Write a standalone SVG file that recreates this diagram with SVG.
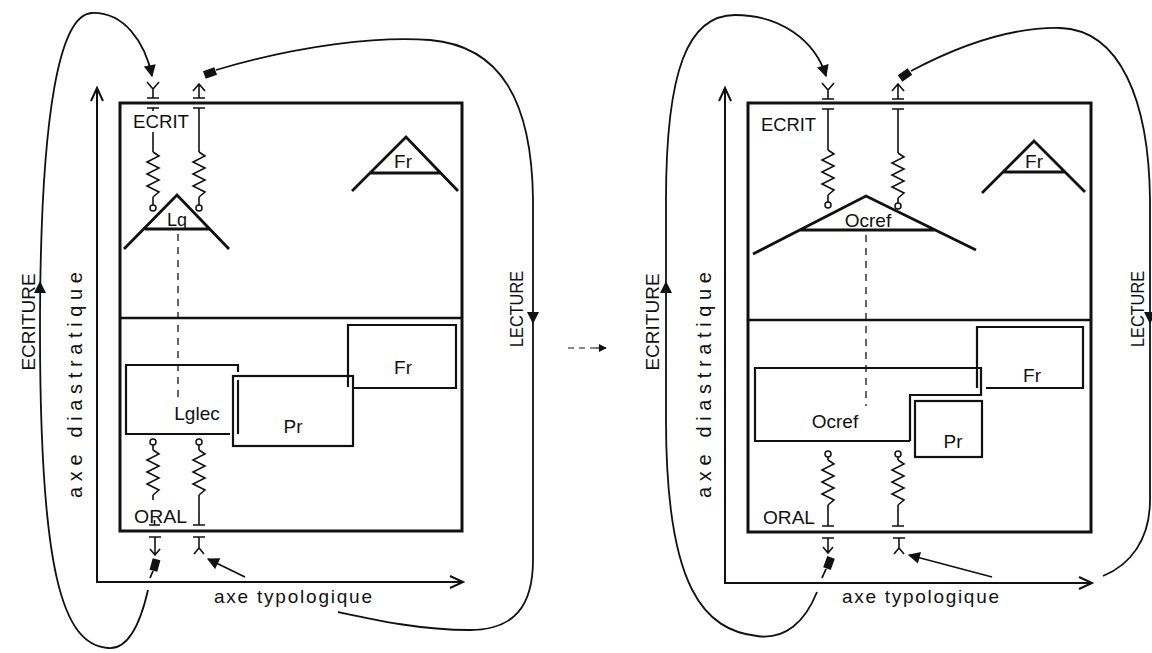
<svg xmlns="http://www.w3.org/2000/svg" width="1152" height="653" viewBox="0 0 1152 653">
<defs>
<style>
.t{font-family:"Liberation Sans","DejaVu Sans",Arial,sans-serif;font-size:19px;fill:#111}
.ax-t{font-size:20px}
.box{fill:none;stroke:#111;stroke-width:3}
.in{fill:none;stroke:#111;stroke-width:2.2}
.ln{fill:none;stroke:#111;stroke-width:1.6}
.tri{fill:none;stroke:#111;stroke-width:2.8;stroke-linejoin:miter}
.cv{fill:none;stroke:#111;stroke-width:1.8}
.ax{fill:none;stroke:#111;stroke-width:2}
.dash{fill:none;stroke:#111;stroke-width:1.3;stroke-dasharray:7,6}
.circ{fill:#fff;stroke:#111;stroke-width:1.5}
</style>
<path id="zz" d="M0,0 l6,4 l-12,6 l12,6 l-12,6 l12,6 l-12,6 l12,6 l-6,5" class="ln"/>
<marker id="ah" viewBox="0 0 10 10" refX="9" refY="5" markerWidth="8" markerHeight="8" markerUnits="userSpaceOnUse" orient="auto"><path d="M0,0 L10,5 L0,10 z" fill="#111"/></marker>
<marker id="ahb" viewBox="0 0 10 10" refX="9" refY="5" markerWidth="14" markerHeight="12" markerUnits="userSpaceOnUse" orient="auto"><path d="M0,0 L10,5 L0,10 z" fill="#111"/></marker>
</defs>
<rect width="1152" height="653" fill="#fff"/>

<!-- LEFT DIAGRAM -->
<g id="left-frame">
<rect class="box" x="120" y="103" width="342" height="428"/>
<line class="box" x1="120" y1="318" x2="462" y2="318" style="stroke-width:2.6"/>
</g>
<g id="left-axes">
<path class="ax" d="M97,583 V88 M91,101 L97,88 L103,101"/>
<path class="ax" d="M97,582 H463 M450,576 L463,582 L450,588"/>
<text class="t ax-t" transform="translate(75,385) rotate(-90)" text-anchor="middle" dominant-baseline="central" textLength="226" lengthAdjust="spacing">axe diastratique</text>
<text class="t" x="214" y="603" textLength="158" lengthAdjust="spacing">axe typologique</text>
</g>
<g id="left-ecrit">
<text class="t" x="133" y="128" textLength="56" lengthAdjust="spacingAndGlyphs">ECRIT</text>
<path class="ln" d="M147,98 H159 M153,98 V89 M147,82 L153,89 L159,82"/>
<path class="ln" d="M147,108 H159 M153,108 V111 M153,132 V152"/>
<use href="#zz" x="153" y="152"/><path class="ln" d="M153,197 V205"/><circle class="circ" cx="153" cy="208" r="3"/>
<path class="ln" d="M193,98 H205 M199,98 V84 M193,91 L199,84 L205,91"/>
<path class="ln" d="M193,108 H205 M199,108 V152"/>
<use href="#zz" x="199" y="152"/><path class="ln" d="M199,197 V205"/><circle class="circ" cx="199" cy="208" r="3"/>
</g>
<g id="left-lq">
<path class="tri" d="M124,249 L177,195 L229,249 M145,229 H210"/>
<text class="t" x="177" y="226" text-anchor="middle" style="font-size:18px">Lq</text>
<path class="dash" d="M178,234 V400"/>
</g>
<g id="left-fr-top">
<path class="tri" d="M352,191 L406,137 L458,191 M370,173 H441"/>
<text class="t" x="403" y="168" text-anchor="middle">Fr</text>
</g>
<g id="left-lglec">
<path class="in" d="M230,434 H126 V365 H238 V372 M238,380 V434"/>
<text class="t" x="197" y="420" text-anchor="middle">Lglec</text>
</g>
<g id="left-pr">
<rect class="in" x="233" y="376" width="120" height="70"/>
<text class="t" x="293" y="433" text-anchor="middle">Pr</text>
</g>
<g id="left-fr">
<path class="in" d="M348,387 V325 H456 V388 H354"/>
<text class="t" x="403" y="374" text-anchor="middle">Fr</text>
</g>
<g id="left-oral">
<circle class="circ" cx="153" cy="442" r="3"/><path class="ln" d="M153,445 V450"/><use href="#zz" x="153" y="450"/><path class="ln" d="M153,495 V500"/>
<circle class="circ" cx="199" cy="442" r="3"/><path class="ln" d="M199,445 V450"/><use href="#zz" x="199" y="450"/><path class="ln" d="M199,495 V525 M193,525 H205"/>
<text class="t" x="134" y="523" textLength="53" lengthAdjust="spacingAndGlyphs">ORAL</text>
<path class="ln" d="M149,525 H160 M154.5,525 V520"/>
<path class="ln" d="M149,537 H161 M155,537 V555 M150,549 L155,555 L160,549"/>
<path class="ln" d="M193,537 H205 M199,537 V548 M194,554 L199,548 L204,554"/>
</g>

<!-- RIGHT DIAGRAM -->
<g id="right-frame">
<rect class="box" x="748" y="103" width="343" height="429"/>
<line class="box" x1="748" y1="320" x2="1091" y2="320" style="stroke-width:2.6"/>
</g>
<g id="right-axes">
<path class="ax" d="M725,584 V88 M719,101 L725,88 L731,101"/>
<path class="ax" d="M725,583 H1092 M1079,577 L1092,583 L1079,589"/>
<text class="t ax-t" transform="translate(704,385) rotate(-90)" text-anchor="middle" dominant-baseline="central" textLength="226" lengthAdjust="spacing">axe diastratique</text>
<text class="t" x="842" y="603" textLength="157" lengthAdjust="spacing">axe typologique</text>
</g>
<g id="right-ecrit">
<text class="t" x="761" y="131" textLength="55" lengthAdjust="spacingAndGlyphs">ECRIT</text>
<path class="ln" d="M822,99 H834 M828,99 V90 M822,83 L828,90 L834,83"/>
<path class="ln" d="M822,109 H834 M828,109 V150"/>
<use href="#zz" x="828" y="150"/><path class="ln" d="M828,195 V202"/><circle class="circ" cx="828" cy="205" r="3"/>
<path class="ln" d="M892,99 H904 M898,99 V84 M892,91 L898,84 L904,91"/>
<path class="ln" d="M892,109 H904 M898,109 V153"/>
<use href="#zz" x="898" y="153"/><path class="ln" d="M898,198 V203"/><circle class="circ" cx="898" cy="206" r="3"/>
</g>
<g id="right-ocref-top">
<path class="tri" d="M753,254 L866,196 L976,250 M800,230 H935"/>
<text class="t" x="868" y="227" text-anchor="middle">Ocref</text>
<path class="dash" d="M866,235 V406"/>
</g>
<g id="right-fr-top">
<path class="tri" d="M982,193 L1034,141 L1085,192 M1003,172 H1065"/>
<text class="t" x="1034" y="168" text-anchor="middle">Fr</text>
</g>
<g id="right-ocref">
<path class="in" d="M910,441 H755 V368 H981 V395 H910 V441"/>
<text class="t" x="835" y="428" text-anchor="middle">Ocref</text>
</g>
<g id="right-pr">
<rect class="in" x="915" y="401" width="67" height="56"/>
<text class="t" x="953" y="448" text-anchor="middle">Pr</text>
</g>
<g id="right-fr">
<path class="in" d="M977,388 V327 H1083 V388 H986"/>
<text class="t" x="1032" y="382" text-anchor="middle">Fr</text>
</g>
<g id="right-oral">
<circle class="circ" cx="828" cy="454" r="3"/><path class="ln" d="M828,457 V460"/><use href="#zz" x="828" y="460"/><path class="ln" d="M828,505 V526 M822,526 H834"/>
<circle class="circ" cx="898" cy="454" r="3"/><path class="ln" d="M898,457 V460"/><use href="#zz" x="898" y="460"/><path class="ln" d="M898,505 V526 M892,526 H904"/>
<text class="t" x="763" y="524" textLength="52" lengthAdjust="spacingAndGlyphs">ORAL</text>
<path class="ln" d="M822,538 H834 M828,538 V553 M823,547 L828,553 L833,547"/>
<path class="ln" d="M893,538 H905 M899,538 V548 M894,554 L899,548 L904,554"/>
</g>

<!-- CONNECTORS -->
<g id="connectors">
<!-- left: ECRITURE loop -->
<rect x="151" y="559" width="8" height="12" fill="#111" transform="rotate(15 155 565)"/>
<path class="cv" d="M153,571 L150,578"/>
<path class="cv" d="M148,590 C140,625 128,650 108,648 C62,645 40,570 40,330 C40,110 60,14 92,13 C124,12 145,42 152,76" marker-end="url(#ahb)"/>
<path d="M34,293 L40,281 L46,293 z" fill="#111"/>
<text class="t" transform="translate(28,322) rotate(-90)" text-anchor="middle" dominant-baseline="central">ECRITURE</text>
<!-- left: LECTURE loop -->
<rect x="204" y="69" width="12" height="8" fill="#111" transform="rotate(-20 210 73)"/>
<path class="cv" d="M216,70 C300,45 380,36 430,40 C500,46 532,100 533,200 L533,560 C533,605 515,630 470,630 C420,630 375,620 338,612"/>
<path d="M527,312 L533,324 L539,312 z" fill="#111"/>
<text class="t" transform="translate(516,309) rotate(-90)" text-anchor="middle" dominant-baseline="central" textLength="76" lengthAdjust="spacingAndGlyphs">LECTURE</text>
<path class="cv" d="M245,577 L208,559" marker-end="url(#ahb)"/>

<!-- middle transition arrow -->
<path class="dash" d="M568,348 H598" style="stroke-width:1.2;stroke-dasharray:6,5"/>
<path class="ln" d="M596,348 H606" style="stroke-width:1.2" marker-end="url(#ah)"/>

<!-- right: ECRITURE loop -->
<rect x="825" y="557" width="8" height="12" fill="#111" transform="rotate(20 829 563)"/>
<path class="cv" d="M826,569 L822,578"/>
<path class="cv" d="M817,592 C805,622 785,640 757,636 C705,630 666,590 666,420 L666,200 C666,70 688,15 735,15 C780,15 815,40 826,76" marker-end="url(#ahb)"/>
<path d="M660,293 L666,281 L672,293 z" fill="#111"/>
<text class="t" transform="translate(652,322) rotate(-90)" text-anchor="middle" dominant-baseline="central">ECRITURE</text>
<!-- right: LECTURE loop -->
<rect x="899" y="71" width="12" height="8" fill="#111" transform="rotate(-35 905 75)"/>
<path class="cv" d="M911,71 C960,45 1010,27 1060,28 C1120,30 1149,100 1150,200 L1150,500 C1150,540 1130,565 1103,576"/>
<path d="M1144,312 L1150,324 L1156,312 z" fill="#111"/>
<text class="t" transform="translate(1137,309) rotate(-90)" text-anchor="middle" dominant-baseline="central" textLength="76" lengthAdjust="spacingAndGlyphs">LECTURE</text>
<path class="cv" d="M992,577 L909,555" marker-end="url(#ahb)"/>
</g>
</svg>
